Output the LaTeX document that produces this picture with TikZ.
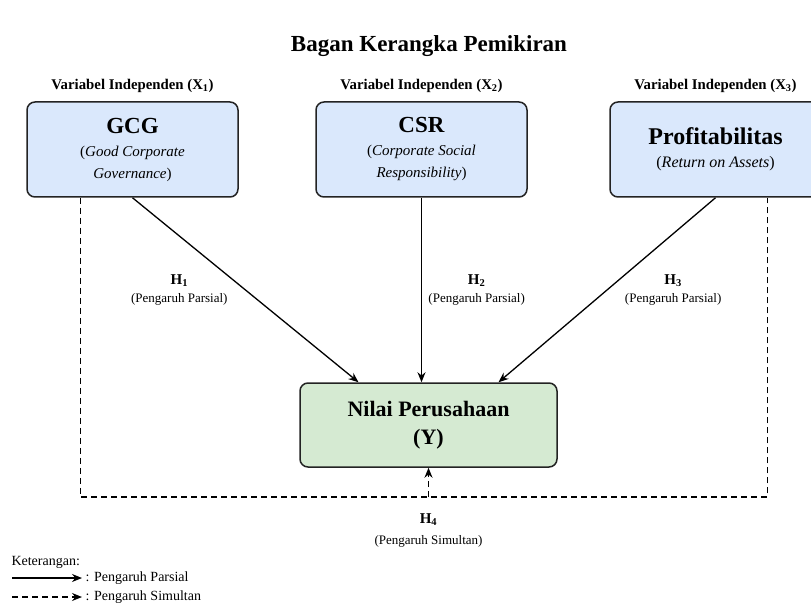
\documentclass[tikz,border=0pt]{standalone}
\usepackage{fontspec}
\setmainfont{Liberation Serif}
\usetikzlibrary{arrows.meta,positioning}
\definecolor{indepfill}{RGB}{218,232,252}
\definecolor{depfill}{RGB}{213,234,210}
\definecolor{boxline}{RGB}{35,35,35}

\begin{document}
\begin{tikzpicture}[
    x=1pt, y=-1pt,
    indep/.style={draw=boxline, fill=indepfill, line width=1.5pt, rounded corners=8pt, minimum width=211pt, minimum height=95pt, align=center, font=\fontsize{15}{22}\selectfont},
    dep/.style={draw=boxline, fill=depfill, line width=1.5pt, rounded corners=8pt, minimum width=257pt, minimum height=84pt, align=center, font=\fontsize{22}{28}\selectfont\bfseries},
    varlabel/.style={font=\fontsize{14.8}{16}\selectfont\bfseries},
    hyp/.style={align=center, font=\fontsize{13}{18}\selectfont},
    legtext/.style={anchor=west, font=\fontsize{14}{16}\selectfont},
    partial/.style={-{Stealth[length=10pt,width=8pt]}, line width=1.3pt},
    simultan/.style={dash pattern=on 6pt off 4pt, line width=1.3pt}
]
    \useasboundingbox (0,0) rectangle (811,604);

    % Title
    \node[font=\fontsize{23}{26}\selectfont\bfseries] (title) at (429,46) {Bagan Kerangka Pemikiran};

    % Independent variables
    \node[indep] (gcg) at (132.5,149.5) {{\fontsize{23}{24}\selectfont\bfseries GCG}\\[1pt]
        (\textit{Good Corporate}\\\textit{Governance})};
    \node[indep] (csr) at (421.5,149.5) {{\fontsize{23}{24}\selectfont\bfseries CSR}\\[1pt]
        (\textit{Corporate Social}\\\textit{Responsibility})};
    \node[indep] (prof) at (715.5,149.5) {{\fontsize{24}{24}\selectfont\bfseries Profitabilitas}\\[1pt]
        {\fontsize{16}{22}\selectfont(\textit{Return on Assets})}};

    % Labels above boxes
    \node[varlabel, above=5pt of gcg] (x1) {Variabel Independen (X\textsubscript{1})};
    \node[varlabel, above=5pt of csr] (x2) {Variabel Independen (X\textsubscript{2})};
    \node[varlabel, above=5pt of prof] (x3) {Variabel Independen (X\textsubscript{3})};

    % Dependent variable
    \node[dep] (nilai) at (428.5,425) {Nilai Perusahaan\\(Y)};

    % Partial effects
    \draw[partial] (gcg.south) -- ([xshift=-70pt]nilai.north)
        node[midway, hyp, left=14pt] (h1) {{\fontsize{15}{18}\selectfont\bfseries H\textsubscript{1}}\\(Pengaruh Parsial)};
    \draw[partial] (csr.south) -- (csr.south |- nilai.north)
        node[midway, hyp, right=3pt] (h2) {{\fontsize{15}{18}\selectfont\bfseries H\textsubscript{2}}\\(Pengaruh Parsial)};
    \draw[partial] (prof.south) -- ([xshift=70pt]nilai.north)
        node[midway, hyp, right=14pt] (h3) {{\fontsize{15}{18}\selectfont\bfseries H\textsubscript{3}}\\(Pengaruh Parsial)};

    % Simultaneous effect
    \coordinate (simul) at (nilai.south |- 0,497);
    \draw[simultan] ([xshift=-52pt]gcg.south) |- (simul) -| ([xshift=52pt]prof.south);
    \draw[simultan, -{Stealth[length=10pt,width=8pt]}] (simul) -- (nilai.south);
    \node[hyp, below=13pt of simul] (h4) {{\fontsize{15}{18}\selectfont\bfseries H\textsubscript{4}}\\[3pt](Pengaruh Simultan)};

    % Legend
    \node[legtext] (ket) at (8,562) {Keterangan:};
    \coordinate (leg1) at (12,578);
    \coordinate (leg2) at (12,597);
    \node[legtext] (legpar) at (82,578) {: Pengaruh Parsial};
    \node[legtext] (legsim) at (82,597) {: Pengaruh Simultan};
    \draw[partial] (leg1) -- (legpar.west);
    \draw[simultan, -{Stealth[length=10pt,width=8pt]}] (leg2) -- (legsim.west);
\end{tikzpicture}
\end{document}
